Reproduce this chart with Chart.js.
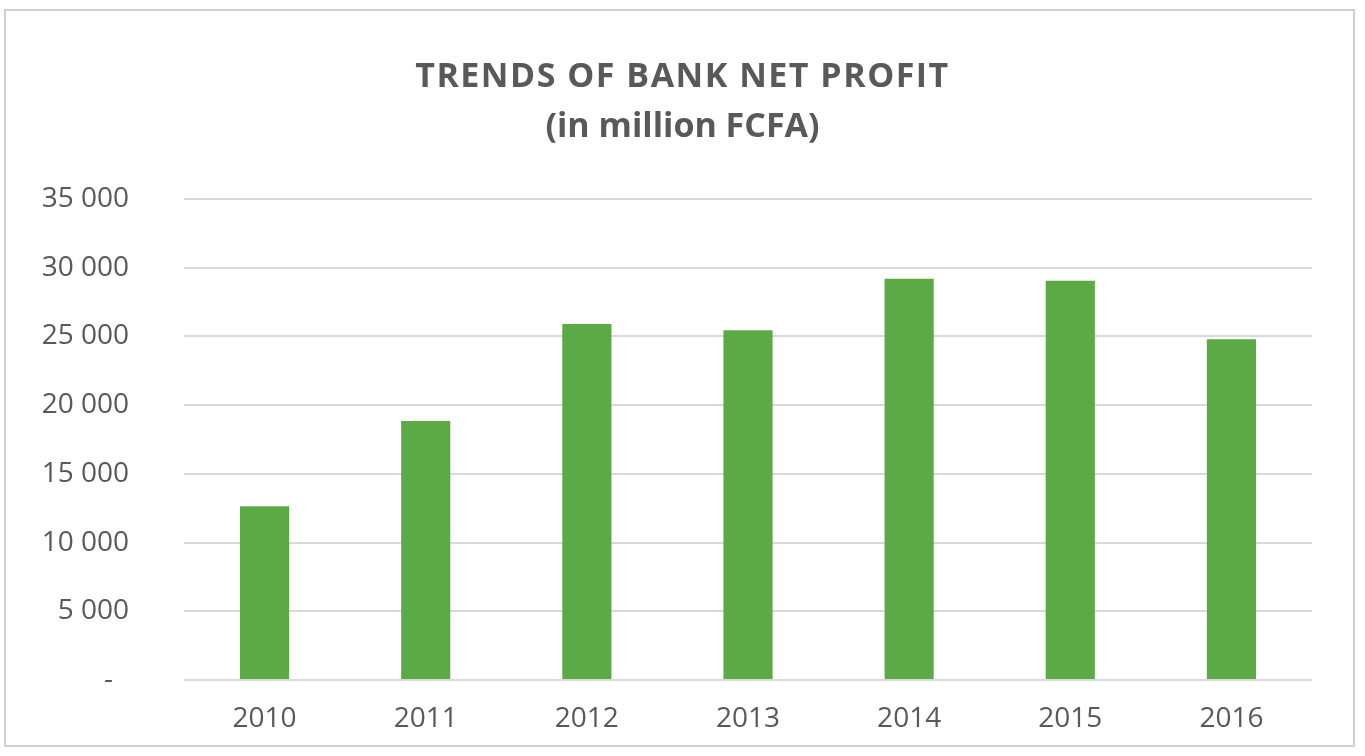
<!DOCTYPE html>
<html>
<head>
<meta charset="utf-8">
<script src="https://cdn.jsdelivr.net/npm/chart.js@4.4.1/dist/chart.umd.min.js"></script>
<style>
  html, body { margin: 0; padding: 0; background: #fff; }
  #wrap { position: relative; width: 1365px; height: 756px; }
  #frame {
    position: absolute; left: 4px; top: 9px; width: 1351px; height: 738px;
    border: 2px solid #cfcfcf; box-sizing: border-box; pointer-events: none;
  }
  canvas { position: absolute; left: 0; top: 0; }
</style>
</head>
<body>
<div id="wrap">
  <canvas id="profitChart" width="1365" height="756"></canvas>
  <div id="frame"></div>
</div>
<script>
// Net profit by year, million FCFA
const years = ["2010", "2011", "2012", "2013", "2014", "2015", "2016"];
const netProfit = [12650, 18850, 25900, 25450, 29200, 29050, 24800];
const yTicks = [0, 5000, 10000, 15000, 20000, 25000, 30000, 35000];

const titleLines = ["TRENDS OF BANK NET PROFIT", "(in million FCFA)"];
const titleSpacing = ["1.5px", "0px"];
const textGray = "#595959";
const barGreen = "#5BAA46";

// "35 000" style, zero shown as a dash
function formatTick(v) {
  if (v === 0) return "-\u2007";
  return String(v).replace(/\B(?=(\d{3})+(?!\d))/g, " ");
}

// the built-in title reserves the space; this draws the lines centred on the canvas, with a bit of tracking
const spacedTitle = {
  id: "spacedTitle",
  afterDraw(chart) {
    const t = chart.titleBlock;
    const c = chart.ctx;
    const cx = chart.width / 2;
    const lh = 50;
    c.save();
    c.fillStyle = textGray;
    c.font = "bold 34px 'Open Sans'";
    c.textAlign = "center";
    c.textBaseline = "middle";
    titleLines.forEach((line, i) => {
      c.letterSpacing = titleSpacing[i];
      c.fillText(line, cx, t.top + lh / 2 + i * lh);
    });
    c.restore();
  }
};

const ctx = document.getElementById("profitChart").getContext("2d");
new Chart(ctx, {
  type: "bar",
  data: {
    labels: years,
    datasets: [{
      data: netProfit,
      backgroundColor: barGreen,
      borderWidth: 0,
      categoryPercentage: 1,
      barPercentage: 0.305
    }]
  },
  options: {
    responsive: false,
    animation: false,
    layout: { padding: { top: 52, left: 30, right: 53, bottom: 0 } },
    plugins: {
      legend: { display: false },
      tooltip: { enabled: false },
      title: {
        display: true,
        text: titleLines,
        color: "rgba(0,0,0,0)",
        font: { family: "'Open Sans'", size: 32, weight: "bold", lineHeight: 1.5625 },
        padding: { top: 0, bottom: 47 }
      }
    },
    scales: {
      x: {
        grid: { display: false, drawTicks: false },
        border: { display: false },
        ticks: {
          color: textGray,
          font: { family: "'Open Sans'", size: 28 },
          padding: 22
        },
        afterFit: (scale) => { scale.height = 76; }
      },
      y: {
        min: 0,
        max: 35000,
        afterBuildTicks: (scale) => { scale.ticks = yTicks.map(v => ({ value: v })); },
        grid: { color: "#d9d9d9", lineWidth: 2, drawTicks: false },
        border: { display: false },
        ticks: {
          color: textGray,
          font: { family: "'Open Sans'", size: 28 },
          padding: 55,
          callback: (v) => formatTick(v)
        },
        afterFit: (scale) => { scale.width = 154; }
      }
    }
  },
  plugins: [spacedTitle]
});
</script>
</body>
</html>
